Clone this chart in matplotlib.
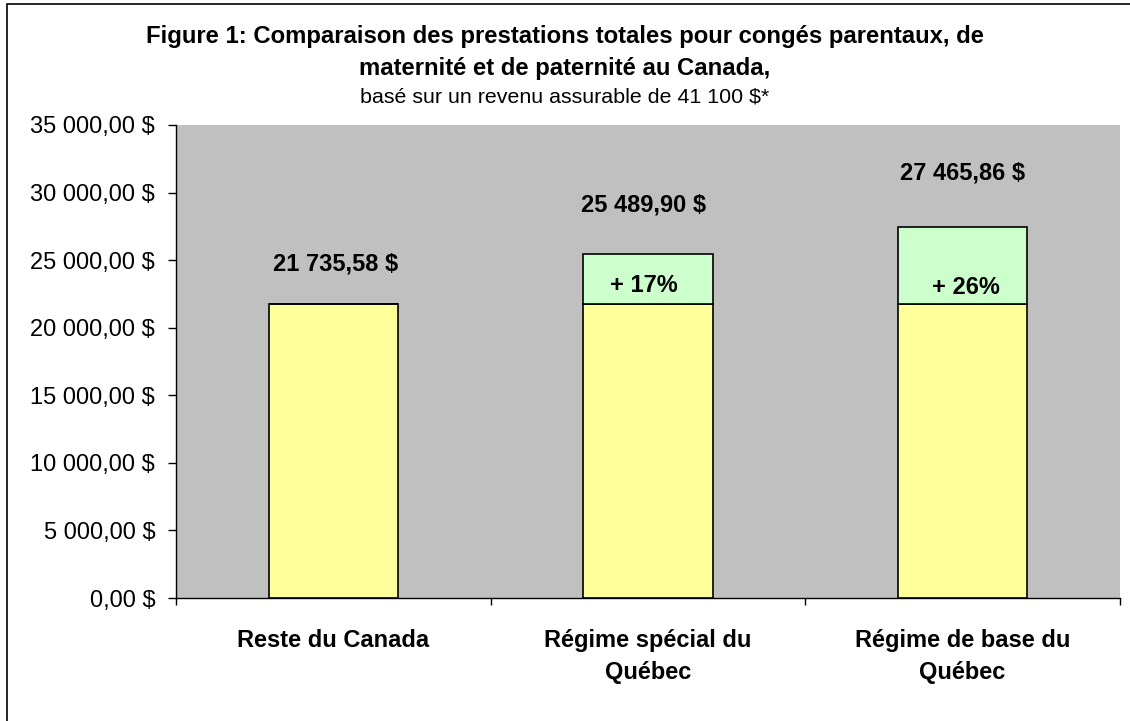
import matplotlib
matplotlib.use("Agg")
import matplotlib.pyplot as plt
from matplotlib.patches import Rectangle

categories = ["Reste du Canada", "Régime spécial du\nQuébec", "Régime de base du\nQuébec"]
base_values = [21735.58, 21735.58, 21735.58]
extra_values = [0.0, 3754.32, 5730.28]
total_labels = ["21 735,58 $", "25 489,90 $", "27 465,86 $"]
pct_labels = ["", "+ 17%", "+ 26%"]
yticks = [0, 5000, 10000, 15000, 20000, 25000, 30000, 35000]
ytick_labels = ["0,00 $", "5 000,00 $", "10 000,00 $", "15 000,00 $", "20 000,00 $",
                "25 000,00 $", "30 000,00 $", "35 000,00 $"]

plt.rcParams['font.family'] = ['Liberation Sans', 'DejaVu Sans']

W, H = 1130, 721
fig = plt.figure(figsize=(W / 100, H / 100), dpi=100)
fig.patch.set_facecolor("white")
ax = fig.add_axes([176 / W, 1 - 598 / H, (1120 - 176) / W, (598 - 125) / H])
ax.set_facecolor("#C0C0C0")

x = list(range(len(categories)))
bw = 0.41
ax.bar(x, base_values, width=bw, color="#FFFF99", edgecolor="black", linewidth=1.2, zorder=2)
ax.bar(x, extra_values, bottom=base_values, width=bw, color="#CCFFCC", edgecolor="black",
       linewidth=1.2, zorder=2)

ax.set_xlim(-0.5, len(categories) - 0.5)
ax.set_ylim(0, 35000)
ax.set_yticks(yticks)
ax.set_yticklabels(ytick_labels, fontsize=17)
ax.set_xticks([i - 0.5 for i in range(len(categories) + 1)])
ax.set_xticklabels([])
ax.tick_params(axis="x", direction="out", length=5, width=1, colors="black")
ax.tick_params(axis="y", direction="out", length=6, width=1, pad=9)
for s in ["top", "right"]:
    ax.spines[s].set_visible(False)
for s in ["left", "bottom"]:
    ax.spines[s].set_linewidth(1)

# category labels
for i, c in enumerate(categories):
    ax.annotate(c, xy=(i, 0), xytext=(0, -22), textcoords="offset points",
                ha="center", va="top", fontsize=17, fontweight="bold", linespacing=1.5)

total_offsets = [24.5, 30.6, 34]
total_dx = [1.5, -3, 0]
pct_offsets = [0, 8.8, 7.4]
pct_dx = [0, -3, 2.3]
for i in range(len(categories)):
    tot = base_values[i] + extra_values[i]
    ax.annotate(total_labels[i], xy=(i, tot), xytext=(total_dx[i], total_offsets[i]),
                textcoords="offset points", ha="center", va="baseline",
                fontsize=17, fontweight="bold")
    if pct_labels[i]:
        ax.annotate(pct_labels[i], xy=(i, base_values[i]), xytext=(pct_dx[i], pct_offsets[i]),
                    textcoords="offset points", ha="center", va="baseline",
                    fontsize=17, fontweight="bold")

fig.text(0.5, 1 - 43 / H, "Figure 1: Comparaison des prestations totales pour congés parentaux, de",
         ha="center", va="baseline", fontsize=17.2, fontweight="bold")
fig.text(0.5, 1 - 75 / H, "maternité et de paternité au Canada,",
         ha="center", va="baseline", fontsize=17.2, fontweight="bold")
fig.text(0.5, 1 - 103 / H, "basé sur un revenu assurable de 41 100 $*",
         ha="center", va="baseline", fontsize=15.4)

fig.patches.append(Rectangle((7 / W, -0.01), 1.2, 1 - 4 / H + 0.01, transform=fig.transFigure,
                             fill=False, edgecolor="black", linewidth=1.2))

fig.savefig("out.png", dpi=100)
